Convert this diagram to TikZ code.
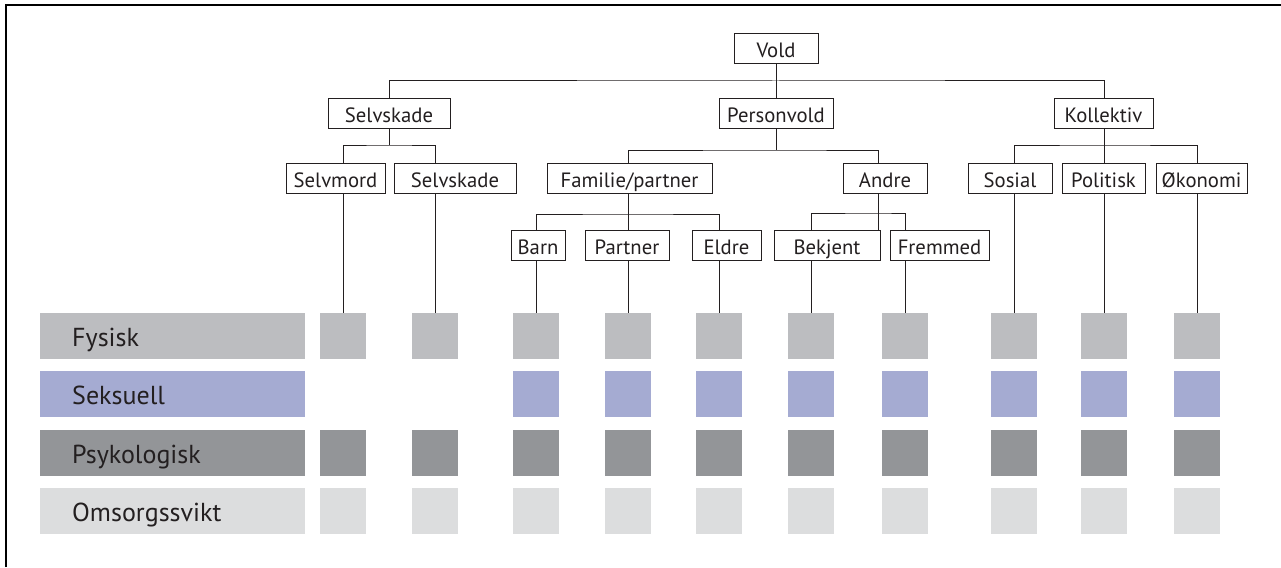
\documentclass[tikz,border=0pt]{standalone}
\usepackage{fontspec}
\setmainfont{PT Sans}
\usepackage{xcolor}
\usetikzlibrary{positioning,calc}
\definecolor{inkdark}{HTML}{231F20}
\definecolor{fysgray}{HTML}{BCBDC0}
\definecolor{sekblue}{HTML}{A5ABD2}
\definecolor{psygray}{HTML}{939598}
\definecolor{omsgray}{HTML}{DCDDDE}

\begin{document}
\begin{tikzpicture}[x=1pt, y=-1pt,
    typebox/.style={draw=inkdark, line width=1pt, rectangle, fill=white, minimum height=30pt, inner sep=0pt, text height=22pt, text depth=4pt, text=inkdark, font=\fontsize{20.7}{24}\selectfont},
    rowbar/.style={rectangle, minimum width=265pt, minimum height=46pt, inner sep=0pt},
    cell/.style={rectangle, minimum width=46pt, minimum height=46pt, inner sep=0pt},
    rowlabel/.style={anchor=base west, inner sep=0pt, text=inkdark, font=\fontsize{26}{30}\selectfont},
    link/.style={draw=inkdark, line width=1pt}]
    \useasboundingbox (0,0) rectangle (1281,567);
    \draw [line width=2pt] (6,567) -- (6,5) -- (1281,5);

    % tree
    \node [typebox, minimum width=84pt] (vold) at (776,49) {Vold};
    \node [typebox, minimum width=122pt] (selvskade) at (389,113.5) {Selvskade};
    \node [typebox, minimum width=114pt] (personvold) at (776,113.5) {Personvold};
    \node [typebox, minimum width=99pt] (kollektiv) at (1103.5,113.5) {Kollektiv};
    \node [typebox, minimum width=99pt] (selvmord) at (335.5,178.5) {Selvmord};
    \node [typebox, minimum width=122pt] (selvskadeB) at (455,178.5) {Selvskade};
    \node [typebox, minimum width=165pt] (familie) at (629.5,178.5) {Familie/partner};
    \node [typebox, minimum width=84pt] (andre) at (885,178.5) {Andre};
    \node [typebox, minimum width=84pt] (sosial) at (1010,178.5) {Sosial};
    \node [typebox, minimum width=83pt] (politisk) at (1103.5,178.5) {Politisk};
    \node [typebox, minimum width=91pt] (okonomi) at (1201.5,178.5) {Økonomi};
    \node [typebox, minimum width=54pt] (barn) at (538,245) {Barn};
    \node [typebox, minimum width=84pt] (partner) at (627,245) {Partner};
    \node [typebox, minimum width=69pt] (eldre) at (726.5,245) {Eldre};
    \node [typebox, minimum width=106pt] (bekjent) at (827,245) {Bekjent};
    \node [typebox, minimum width=99pt] (fremmed) at (939.5,245) {Fremmed};

    % rows
    \node [rowbar, fill=fysgray] (fysbar) at (172.5,336) {};
    \node [rowbar, fill=sekblue] (sekbar) at (172.5,394) {};
    \node [rowbar, fill=psygray] (psybar) at (172.5,453) {};
    \node [rowbar, fill=omsgray] (omsbar) at (172.5,511) {};
    \node [rowlabel] (fyslabel) at (72,346) {Fysisk};
    \node [rowlabel] (seklabel) at (72,404) {Seksuell};
    \node [rowlabel] (psylabel) at (72,463) {Psykologisk};
    \node [rowlabel] (omslabel) at (72,521) {Omsorgssvikt};

    \foreach \c/\x in {1/343,2/435,3/536,4/628,5/719,6/811,7/905,8/1014,9/1104,10/1197} {
        \node [cell, fill=fysgray] (f\c) at (\x,336) {};
        \node [cell, fill=psygray] (p\c) at (\x,453) {};
        \node [cell, fill=omsgray] (o\c) at (\x,511) {};
    }
    \foreach \c/\x in {3/536,4/628,5/719,6/811,7/905,8/1014,9/1104,10/1197}
        \node [cell, fill=sekblue] (s\c) at (\x,394) {};

    % joints
    \coordinate (vj) at (776,81);
    \coordinate (sj) at (389,145);
    \coordinate (pj) at (776,150);
    \coordinate (kj) at (1104,145);
    \coordinate (fj) at (628,214);
    \coordinate (aj) at (878,213);

    \draw [link] (vold.south) -- (personvold.north);
    \draw [link] (selvskade.north) |- (vj) -| (kollektiv.north -| kj);
    \draw [link] (selvskade.south) -- (sj);
    \draw [link] (selvmord.north -| f1.north) |- (sj) -| (selvskadeB.north -| f2.north);
    \draw [link] (personvold.south) -- (pj);
    \draw [link] (familie.north -| fj) |- (pj) -| (andre.north -| aj);
    \draw [link] (kollektiv.south -| kj) -- (politisk.north -| kj);
    \draw [link] (sosial.north -| f8.north) |- (kj) -| (okonomi.north -| f10.north);
    \draw [link] (familie.south -| fj) -- (partner.north -| fj);
    \draw [link] (barn.north -| f3.north) |- (fj) -| (eldre.north -| f5.north);
    \draw [link] (andre.south -| aj) -- (bekjent.north -| aj);
    \draw [link] (bekjent.north -| f6.north) |- (aj) -| (fremmed.north -| f7.north);

    % leaves to cells
    \draw [link] (selvmord.south -| f1.north) -- (f1.north);
    \draw [link] (selvskadeB.south -| f2.north) -- (f2.north);
    \draw [link] (barn.south -| f3.north) -- (f3.north);
    \draw [link] (partner.south -| f4.north) -- (f4.north);
    \draw [link] (eldre.south -| f5.north) -- (f5.north);
    \draw [link] (bekjent.south -| f6.north) -- (f6.north);
    \draw [link] (fremmed.south -| f7.north) -- (f7.north);
    \draw [link] (sosial.south -| f8.north) -- (f8.north);
    \draw [link] (politisk.south -| f9.north) -- (f9.north);
    \draw [link] (okonomi.south -| f10.north) -- (f10.north);
\end{tikzpicture}
\end{document}
